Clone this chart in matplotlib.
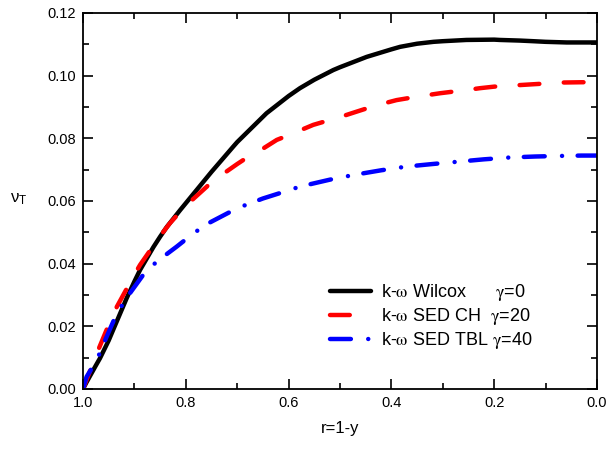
import matplotlib
matplotlib.use("Agg")
import matplotlib.pyplot as plt
from matplotlib.ticker import MultipleLocator, FormatStrFormatter

plt.rcParams['font.family'] = ['Liberation Sans', 'DejaVu Sans']
plt.rcParams['mathtext.fontset'] = 'stix'

r_w = [1.0, 0.993, 0.975, 0.967, 0.95, 0.941, 0.915, 0.9, 0.889, 0.863, 0.85, 0.837, 0.811, 0.779,
       0.772, 0.75, 0.708, 0.7, 0.643, 0.6, 0.578, 0.55, 0.513, 0.5, 0.448, 0.4, 0.383, 0.35, 0.318,
       0.3, 0.254, 0.2, 0.189, 0.15, 0.124, 0.1, 0.059, 0.03, 0.0]
v_w = [0.0, 0.0022, 0.0075, 0.0098, 0.0155, 0.0190, 0.0290, 0.0343, 0.0380, 0.0453, 0.0486, 0.0517,
       0.0571, 0.0635, 0.0649, 0.0693, 0.0773, 0.0788, 0.0880, 0.0935, 0.0960, 0.0987, 0.1018, 0.1027,
       0.1060, 0.1084, 0.1092, 0.1102, 0.1108, 0.1110, 0.1114, 0.1115, 0.1114, 0.1112, 0.1110, 0.1108,
       0.1106, 0.1106, 0.1106]

r_ch = [1.0, 0.973, 0.95, 0.934, 0.9, 0.889, 0.85, 0.831, 0.8, 0.759, 0.753, 0.7, 0.688, 0.65, 0.623,
        0.6, 0.552, 0.5, 0.468, 0.43, 0.39, 0.35, 0.305, 0.25, 0.228, 0.2, 0.15, 0.1, 0.072, 0.03, 0.0]
v_ch = [0.0, 0.0114, 0.0205, 0.0263, 0.0365, 0.0396, 0.0488, 0.0529, 0.0585, 0.0646, 0.0657, 0.0718,
        0.0731, 0.0767, 0.0795, 0.0810, 0.0843, 0.0868, 0.0885, 0.0905, 0.0922, 0.0933, 0.0944, 0.0955,
        0.0960, 0.0965, 0.0970, 0.0975, 0.0978, 0.0979, 0.0979]

r_tbl = [1.0, 0.993, 0.973, 0.954, 0.934, 0.909, 0.883, 0.857, 0.818, 0.785, 0.756, 0.7, 0.65, 0.6,
         0.578, 0.52, 0.474, 0.42, 0.37, 0.32, 0.273, 0.22, 0.169, 0.12, 0.066, 0.03, 0.0]
v_tbl = [0.0, 0.0039, 0.0093, 0.0167, 0.0242, 0.0305, 0.0364, 0.0406, 0.0454, 0.0497, 0.0529, 0.0577,
         0.0608, 0.0634, 0.0646, 0.0668, 0.0683, 0.0698, 0.0710, 0.0718, 0.0725, 0.0733, 0.0739, 0.0742,
         0.0744, 0.0745, 0.0745]

labels = ["k-$\\mathrm{\\omega}$ Wilcox      $\\mathrm{\\gamma}$=0",
          "k-$\\mathrm{\\omega}$ SED CH  $\\mathrm{\\gamma}$=20",
          "k-$\\mathrm{\\omega}$ SED TBL $\\mathrm{\\gamma}$=40"]

fig = plt.figure(figsize=(6.11, 4.5), dpi=100)
ax = fig.add_axes([83/611, 61/450, 514/611, 376/450])

LW = 3.2
ax.plot(r_w, v_w, color='black', lw=LW, solid_capstyle='round', solid_joinstyle='round',
        label=labels[0])
ax.plot(r_ch, v_ch, color='#ff0000', lw=LW, linestyle=(0, (4.45, 5.5)), dash_capstyle='round',
        label=labels[1])
ax.plot(r_tbl, v_tbl, color='#0000ff', lw=LW, linestyle=(0, (4.7, 3.9, 0.01, 3.5)),
        dash_capstyle='round', label=labels[2])

ax.set_xlim(1.0, 0.0)
ax.set_ylim(0.0, 0.12)
ax.xaxis.set_major_locator(MultipleLocator(0.2))
ax.xaxis.set_minor_locator(MultipleLocator(0.1))
ax.yaxis.set_major_locator(MultipleLocator(0.02))
ax.yaxis.set_minor_locator(MultipleLocator(0.01))
ax.xaxis.set_major_formatter(FormatStrFormatter('%.1f'))
ax.yaxis.set_major_formatter(FormatStrFormatter('%.2f'))
ax.tick_params(which='both', direction='in', top=True, right=True, labelsize=10.5, width=1.2)
ax.tick_params(which='major', length=7, pad=5)
ax.tick_params(which='minor', length=4)
for s in ax.spines.values():
    s.set_linewidth(1.3)

ax.set_xlabel("r=1-y", fontsize=12, labelpad=8)
fig.text(19/611, 1 - 199/450, "\u03bd$_{\\mathregular{T}}$", fontsize=12, ha='center', va='center')

ax.legend(loc='upper left', bbox_to_anchor=(0.48, 0.285), frameon=False, fontsize=13,
          handlelength=2.3, handletextpad=0.55, labelspacing=0.18, borderpad=0, borderaxespad=0)

fig.savefig("out.png", dpi=100)
